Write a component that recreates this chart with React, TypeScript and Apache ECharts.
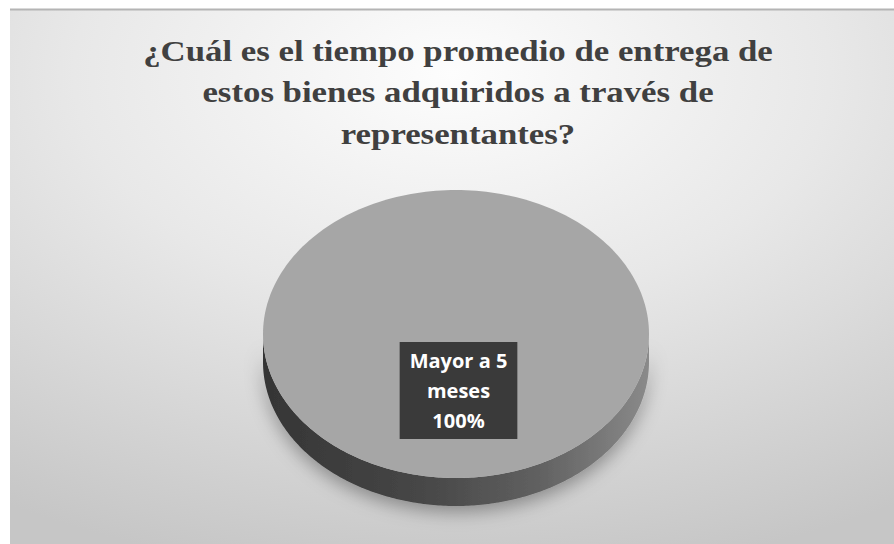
import React, { useEffect, useRef } from "react";
import * as echarts from "echarts";

const titleLines = [
  "¿Cuál es el tiempo promedio de entrega de",
  "estos bienes adquiridos a través de",
  "representantes?",
];
const categories = ["Mayor a 5 meses"];
const categoryLabels = ["Mayor a 5\nmeses"];
const values = [100];

export default function App() {
  const ref = useRef<HTMLDivElement>(null);
  useEffect(() => {
    if (!ref.current) return;
    const chart = echarts.init(ref.current, undefined, { renderer: "svg" });
    const cx = 456, cy = 334, rx = 193, ry = 144, depth = 28;
    const total = values.reduce((a, b) => a + b, 0);
    chart.setOption({
      animation: false,
      backgroundColor: "#ffffff",
      graphic: [
        {
          type: "rect",
          z: -10,
          silent: true,
          shape: { x: 10, y: 9, width: 884, height: 535 },
          style: {
            fill: new echarts.graphic.RadialGradient(0.5, 0.12, 0.95, [
              { offset: 0, color: "#fdfdfd" },
              { offset: 0.45, color: "#e8e8e8" },
              { offset: 1, color: "#c6c6c6" },
            ]),
          },
        },
        {
          type: "line",
          z: -9,
          silent: true,
          shape: { x1: 10, y1: 9.5, x2: 894, y2: 9.5 },
          style: { stroke: "#b4b4b4", lineWidth: 2 },
        },
        {
          type: "text",
          z: 10,
          x: 458,
          y: 30,
          scaleX: 1.2,
          silent: true,
          style: {
            text: titleLines.join("\n"),
            align: "center",
            verticalAlign: "top",
            fontFamily: "Liberation Serif",
            fontWeight: "bold",
            fontSize: 29,
            lineHeight: 41.5,
            fill: "#404040",
          },
        },
      ],
      series: [
        {
          type: "custom",
          coordinateSystem: "none",
          data: values.map((v, i) => ({ name: categories[i], value: [v] })),
          renderItem: (params: any, api: any) => {
            const i = params.dataIndex;
            const v = api.value(0);
            const before = values.slice(0, i).reduce((a, b) => a + b, 0);
            const a0 = -Math.PI / 2 + (before / total) * 2 * Math.PI;
            const a1 = a0 + (v / total) * 2 * Math.PI;
            const N = 240;
            const top: number[][] = [];
            for (let k = 0; k <= N; k++) {
              const a = a0 + ((a1 - a0) * k) / N;
              top.push([cx + rx * Math.cos(a), cy + ry * Math.sin(a)]);
            }
            const full = v / total >= 0.99999;
            if (!full) top.push([cx, cy]);
            const lo = Math.max(a0, 0);
            const hi = Math.min(a1, Math.PI);
            const children: any[] = [];
            if (hi > lo) {
              const upper: number[][] = [];
              const lower: number[][] = [];
              for (let k = 0; k <= N; k++) {
                const a = lo + ((hi - lo) * k) / N;
                const x = cx + rx * Math.cos(a);
                const y = cy + ry * Math.sin(a);
                upper.push([x, y]);
                lower.push([x, y + depth]);
              }
              children.push({
                type: "polygon",
                shape: { points: upper.concat(lower.reverse()) },
                style: {
                  fill: new echarts.graphic.LinearGradient(1, 0, 0, 0, [
                    { offset: 0, color: "#8a8a8a" },
                    { offset: 0.3, color: "#5f5f5f" },
                    { offset: 0.6, color: "#464646" },
                    { offset: 1, color: "#353535" },
                  ]),
                  shadowBlur: 18,
                  shadowColor: "rgba(0,0,0,0.35)",
                  shadowOffsetY: 6,
                },
              });
            }
            children.push({
              type: "polygon",
              shape: { points: top },
              style: { fill: "#a6a6a6" },
            });
            const pct = Math.round((v / total) * 100);
            children.push({
              type: "text",
              x: 458.5,
              y: 390.5,
              style: {
                text: categoryLabels[i] + "\n" + pct + "%",
                fill: "#ffffff",
                fontFamily: "Open Sans",
                fontWeight: "bold",
                fontSize: 20,
                lineHeight: 30,
                align: "center",
                verticalAlign: "middle",
                backgroundColor: "#3a3a3a",
                padding: [4, 10, 3, 10],
                boxShadowBlur: 5,
                boxShadowColor: "rgba(0,0,0,0.45)",
                boxShadowOffsetX: 2,
                boxShadowOffsetY: 2,
              },
            });
            return { type: "group", children };
          },
        },
      ],
    });
    return () => chart.dispose();
  }, []);
  return (
    <div
      ref={ref}
      style={{ position: "absolute", left: 0, top: 0, width: 894, height: 544 }}
    />
  );
}
